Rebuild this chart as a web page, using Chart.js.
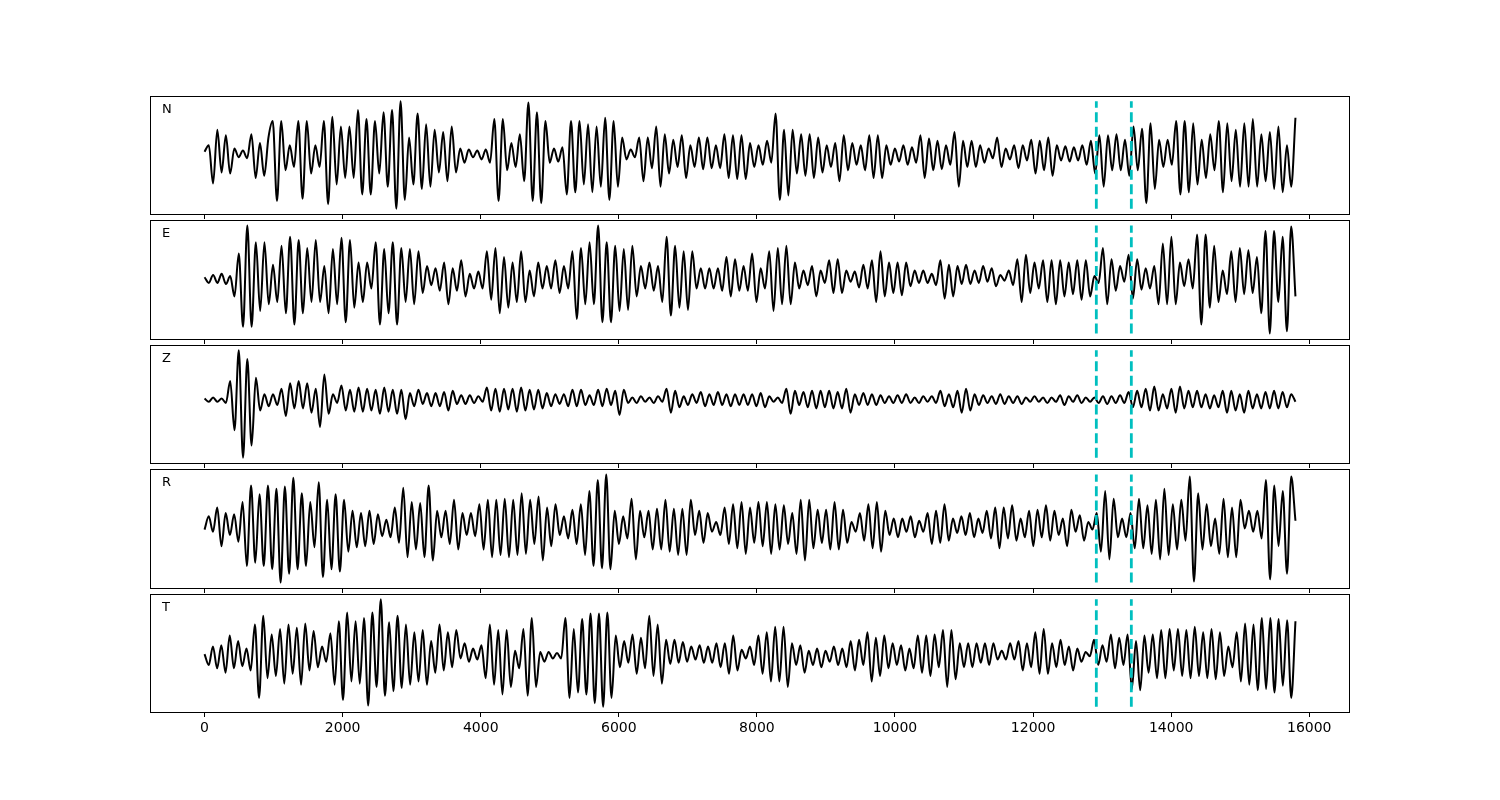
<!DOCTYPE html>
<html><head><meta charset="utf-8">
<script src="https://cdn.jsdelivr.net/npm/chart.js@4.4.1/dist/chart.umd.min.js"></script>
<style>
html,body{margin:0;padding:0;background:#fff;width:1500px;height:800px;overflow:hidden;}
#wrap{position:relative;width:1500px;height:800px;background:#fff;}
canvas{position:absolute;left:0;}
</style></head><body><div id="wrap"></div>
<script>
// ---- data ----
const DURATION = 15800;            // last sample time
const X_MIN = -790, X_MAX = 16590; // axis limits
const TICK_VALUES = [0, 2000, 4000, 6000, 8000, 10000, 12000, 14000, 16000];
const PICK_TIMES = [12916, 13423];
const COMPONENTS = ['N', 'E', 'Z', 'R', 'T'];

const N_VALUES = [
 2, 8, -27, 22, -17, 17, -18, 5, -3, 3, -4, 18, -22, 10, -20, 15,
 30, -43, 30, -15, 8, -12, 30, -41, 30, -18, 8, -12, 30, -46, 34, -28,
 25, -22, 25, -22, 40, -37, 32, -37, 30, -18, 38, -30, 40, -50, 48, -42,
 15, -28, 37, -32, 27, -30, 22, -17, 20, -25, 25, -17, 5, -8, 4, -3,
 3, -5, 4, -8, 32, -43, 32, -15, 10, -12, 18, -25, 47, -43, 38, -45,
 30, -8, 5, -7, 6, -37, 30, -35, 30, -28, 27, -35, 25, -30, 33, -42,
 30, -30, 15, -5, 4, -3, 15, -25, 15, -13, 25, -30, 18, -18, 13, -12,
 17, -22, 8, -12, 15, -14, 15, -13, 8, -13, 18, -22, 17, -23, 17, -23,
 10, -12, 8, -10, 12, -8, 37, -42, 22, -38, 22, -18, 18, -20, 18, -22,
 15, -17, 8, -12, 10, -25, 17, -15, 10, -10, 8, -15, 17, -22, 17, -22,
 8, -10, 5, -7, 8, -10, 6, -8, 17, -22, 14, -15, 12, -14, 8, -10,
 20, -30, 12, -12, 12, -12, 8, -8, 5, -4, 15, -12, 5, -5, 8, -13,
 8, -6, 13, -18, 12, -15, 15, -20, 8, -6, 7, -7, 6, -6, 8, -10,
 12, -18, 17, -30, 17, -15, 18, -15, 13, -20, 25, -15, 23, -45, 28, -32,
 13, -12, 13, -10, 30, -37, 30, -35, 28, -28, 13, -22, 18, -15, 30, -35,
 28, -25, 22, -30, 28, -30, 32, -30, 18, -25, 20, -32, 25, -35, 8, -30, 33
];
const E_VALUES = [
 2, -3, 4, -3, 5, -4, 3, -15, 23, -42, 48, -42, 33, -28, 33, -22,
 13, -20, 30, -30, 38, -40, 35, -30, 28, -20, 35, -20, 12, -30, 27, -22,
 37, -38, 35, -25, 15, -20, 15, -8, 33, -40, 27, -30, 33, -40, 28, -20,
 27, -22, 25, -12, 12, -5, 10, -10, 15, -22, 10, -10, 17, -15, 5, -8,
 7, -8, 25, -18, 28, -30, 20, -25, 15, -20, 25, -20, 8, -15, 15, -8,
 12, -8, 17, -12, 12, -8, 25, -35, 28, -22, 33, -22, 48, -38, 33, -38,
 30, -28, 27, -27, 30, -15, 12, -8, 15, -10, 12, -20, 38, -32, 30, -25,
 25, -27, 25, -8, 10, -8, 10, -8, 10, -10, 20, -15, 18, -10, 12, -10,
 23, -20, 10, -8, 25, -28, 28, -22, 30, -22, 15, -8, 8, -5, 12, -15,
 8, -3, 17, -12, 18, -12, 8, -2, 7, -7, 13, -8, 17, -20, 25, -15,
 15, -12, 15, -14, 15, -6, 8, -3, 8, -3, 5, -5, 17, -17, 13, -15,
 12, -4, 13, -4, 8, -3, 12, -2, 10, -6, 4, -1, 8, -5, 18, -20,
 22, -12, 15, -8, 17, -20, 17, -22, 17, -15, 15, -13, 17, -18, 17, -15,
 3, -3, 28, -22, 18, -10, 12, -2, 22, -17, 18, -9, 10, -8, 12, -22,
 32, -22, 38, -22, 15, -6, 18, -8, 40, -40, 40, -25, 30, -20, 8, -13,
 25, -20, 28, -13, 26, -12, 20, -30, 43, -48, 43, -20, 38, -46, 47, -15
];
const Z_VALUES = [
 1, -2, 2, -2, 1, -3, 17, -28, 45, -53, 37, -42, 20, -10, 5, -6,
 5, -5, 10, -15, 15, -8, 17, -8, 15, -12, 10, -25, 23, -13, 5, -3,
 13, -10, 9, -11, 11, -11, 10, -10, 9, -13, 11, -11, 9, -13, 9, -18,
 6, -6, 9, -4, 6, -6, 6, -6, 7, -10, 8, -4, 4, -4, 4, -3,
 3, -2, 11, -10, 10, -11, 10, -9, 10, -11, 11, -10, 9, -9, 9, -8,
 6, -6, 5, -4, 5, -6, 9, -6, 9, -5, 4, -5, 9, -6, 10, -5,
 8, -14, 9, -3, 2, -3, 3, -2, 2, -3, 3, -2, 10, -12, 8, -7,
 3, -5, 5, -3, 7, -6, 5, -5, 7, -5, 5, -6, 5, -5, 5, -5,
 5, -6, 6, -7, 3, -2, 2, -3, 10, -13, 8, -5, 7, -7, 8, -8,
 8, -7, 8, -8, 7, -8, 10, -12, 5, -5, 6, -5, 5, -5, 4, -3,
 3, -3, 4, -3, 5, -3, 2, -3, 3, -2, 3, -3, 8, -6, 5, -7,
 8, -12, 10, -10, 5, -5, 4, -3, 3, -4, 5, -4, 3, -3, 3, -4,
 2, -2, 3, -2, 2, -3, 2, -2, 4, -5, 3, -2, 4, -3, 2, -2,
 2, -3, 3, -4, 3, -3, 4, -3, 7, -7, 8, -7, 10, -10, 12, -10,
 5, -8, 10, -12, 12, -8, 8, -7, 8, -7, 5, -8, 4, -7, 8, -12,
 8, -10, 5, -12, 8, -8, 5, -8, 7, -8, 8, -8, 7, -7, 5, -2
];
const R_VALUES = [
 -2, 10, -4, 18, -17, 13, -7, 12, -13, 23, -35, 38, -32, 30, -35, 38,
 -38, 35, -50, 37, -42, 45, -38, 31, -35, 23, -18, 41, -45, 25, -38, 30,
 -40, 25, -22, 15, -18, 13, -17, 15, -15, 12, -8, 7, -9, 18, -14, 36, -27,
 23, -20, 22, -27, 38, -30, 15, -9, 15, -15, 25, -20, 13, -7, 13, -8,
 21, -20, 25, -27, 25, -25, 26, -27, 25, -25, 31, -24, 25, -15, 28, -30,
 18, -17, 21, -7, 10, -10, 16, -15, 21, -25, 33, -35, 43, -37, 48, -38,
 15, -15, 10, -10, 26, -29, 15, -9, 15, -20, 17, -20, 25, -22, 17, -25,
 17, -25, 25, -7, 15, -14, 13, -4, 5, -7, 18, -15, 21, -19, 23, -24,
 18, -14, 23, -17, 23, -24, 21, -20, 20, -15, 13, -24, 25, -30, 25, -19,
 16, -14, 16, -20, 23, -20, 16, -14, 5, -4, 13, -12, 21, -19, 23, -22,
 15, -7, 8, -9, 8, -4, 10, -9, 6, -4, 13, -15, 15, -14, 21, -12,
 8, -5, 10, -7, 13, -9, 8, -5, 15, -10, 18, -19, 18, -10, 20, -12,
 8, -9, 15, -17, 16, -9, 20, -12, 15, -7, 8, -17, 16, -4, 11, -12,
 5, -2, 13, -22, 33, -29, 26, -9, 8, -9, 13, -19, 26, -19, 20, -24,
 25, -29, 35, -25, 21, -20, 25, -12, 46, -49, 31, -20, 21, -17, 8, -24,
 26, -27, 18, -27, 25, -1, 15, -4, 15, -10, 43, -47, 38, -17, 33, -42, 46, 6
];
const T_VALUES = [
 1, -9, 8, -12, 9, -16, 18, -12, 13, -10, 6, -14, 28, -39, 36, -21,
 19, -19, 24, -26, 28, -17, 25, -27, 29, -14, 22, -11, 8, -6, 20, -27,
 31, -41, 39, -24, 31, -26, 34, -46, 39, -29, 51, -37, 30, -33, 36, -30,
 28, -27, 21, -24, 23, -27, 13, -16, 28, -14, 21, -11, 23, -3, 11, -6,
 6, -4, 9, -21, 28, -27, 23, -36, 23, -29, 4, -12, 24, -37, 34, -29,
 3, -6, 3, -3, 2, -3, 34, -39, 24, -34, 33, -36, 38, -44, 38, -47,
 39, -39, 18, -11, 13, -7, 19, -17, 16, -12, 36, -19, 28, -26, 14, -8,
 14, -7, 12, -6, 8, -4, 9, -7, 8, -7, 11, -11, 11, -17, 18, -14,
 5, -3, 8, -9, 18, -17, 21, -24, 26, -24, 26, -29, 11, -9, 9, -16,
 4, -9, 6, -11, 4, -6, 8, -9, 6, -11, 13, -14, 14, -9, 21, -24,
 16, -19, 18, -12, 11, -9, 9, -14, 6, -12, 18, -16, 18, -19, 19, -11,
 23, -29, 23, -22, 11, -11, 11, -11, 11, -7, 11, -9, 11, -4, 4, -4,
 11, -4, 13, -14, 11, -11, 21, -17, 24, -17, 11, -11, 14, -9, 8, -14,
 6, -6, 3, -1, 14, -9, 9, -6, 19, -12, 16, -9, 19, -31, 13, -32,
 18, -16, 19, -21, 23, -21, 24, -14, 24, -19, 23, -21, 26, -19, 21, -21, 24,
 -22, 21, -19, 8, -11, 21, -24, 29, -27, 28, -32, 34, -31, 34, -34, 33, -28, 32, -39, 31
];
const SERIES = [N_VALUES, E_VALUES, Z_VALUES, R_VALUES, T_VALUES];

// ---- layout / style ----
const PANEL_BOX = [[96, 214], [220, 339], [345, 463], [469, 588], [594, 712]];
const PLOT_LEFT = 150, PLOT_RIGHT = 1350;
const PICK_COLOR = '#00bfbf';
const FONT = '"DejaVu Sans", "Liberation Sans", sans-serif';

const wrap = document.getElementById('wrap');

const framePlugin = {
  id: 'frame',
  afterDraw(chart, args, opts) {
    const { ctx, chartArea: a } = chart;
    ctx.save();
    ctx.strokeStyle = '#000';
    ctx.lineWidth = 1;
    ctx.strokeRect(Math.round(a.left) + 0.5, Math.round(a.top) + 0.5,
                   Math.round(a.right - a.left) - 1, Math.round(a.bottom - a.top));
    ctx.fillStyle = '#000';
    ctx.font = '13px ' + FONT;
    ctx.textAlign = 'left';
    ctx.textBaseline = 'alphabetic';
    ctx.fillText(opts.label, a.left + 12, a.top + 16.5);
    ctx.restore();
  }
};

function buildPanel(idx) {
  const values = SERIES[idx];
  const [top, bottom] = PANEL_BOX[idx];
  const isLast = idx === COMPONENTS.length - 1;
  const padTop = 10;
  const axisH = isLast ? 40 : 7;
  const h = bottom - top;
  const canvas = document.createElement('canvas');
  canvas.width = 1500;
  canvas.height = padTop + h + axisH;
  canvas.style.top = (top - padTop) + 'px';
  canvas.style.width = '1500px';
  canvas.style.height = canvas.height + 'px';
  wrap.appendChild(canvas);

  const dt = DURATION / (values.length - 1);
  const trace = values.map((v, i) => ({ x: i * dt, y: v }));
  const lo = Math.min(...values), hi = Math.max(...values);
  const margin = 0.05 * (hi - lo);

  const pickSets = PICK_TIMES.map(t => ({
    data: [{ x: t, y: lo }, { x: t, y: hi }],
    borderColor: PICK_COLOR,
    borderWidth: 2.8,
    borderDash: [10, 4.4],
    pointRadius: 0,
    tension: 0
  }));

  new Chart(canvas, {
    type: 'line',
    data: {
      datasets: [
        ...pickSets,
        {
          data: trace,
          borderColor: '#000',
          borderWidth: 2,
          pointRadius: 0,
          cubicInterpolationMode: 'monotone'
        }
      ]
    },
    options: {
      responsive: false,
      animation: false,
      devicePixelRatio: 1,
      parsing: false,
      normalized: true,
      layout: { padding: { left: PLOT_LEFT, right: 1500 - PLOT_RIGHT, top: padTop, bottom: 0 } },
      plugins: {
        legend: { display: false },
        tooltip: { enabled: false },
        frame: { label: COMPONENTS[idx] }
      },
      scales: {
        x: {
          type: 'linear',
          min: X_MIN,
          max: X_MAX,
          afterBuildTicks: (scale) => { scale.ticks = TICK_VALUES.map(v => ({ value: v })); },
          afterFit: (scale) => { scale.height = axisH; },
          border: { display: false },
          grid: { display: true, drawOnChartArea: false, drawTicks: true, tickLength: 5, color: '#000', lineWidth: 1 },
          ticks: {
            display: isLast,
            autoSkip: false,
            maxRotation: 0,
            padding: 3,
            color: '#000',
            font: { family: FONT, size: 14 },
            callback: (v) => String(v)
          }
        },
        y: {
          type: 'linear',
          display: false,
          min: lo - margin,
          max: hi + margin
        }
      }
    },
    plugins: [framePlugin]
  });
}

COMPONENTS.forEach((_, i) => buildPanel(i));
</script>
</body></html>
